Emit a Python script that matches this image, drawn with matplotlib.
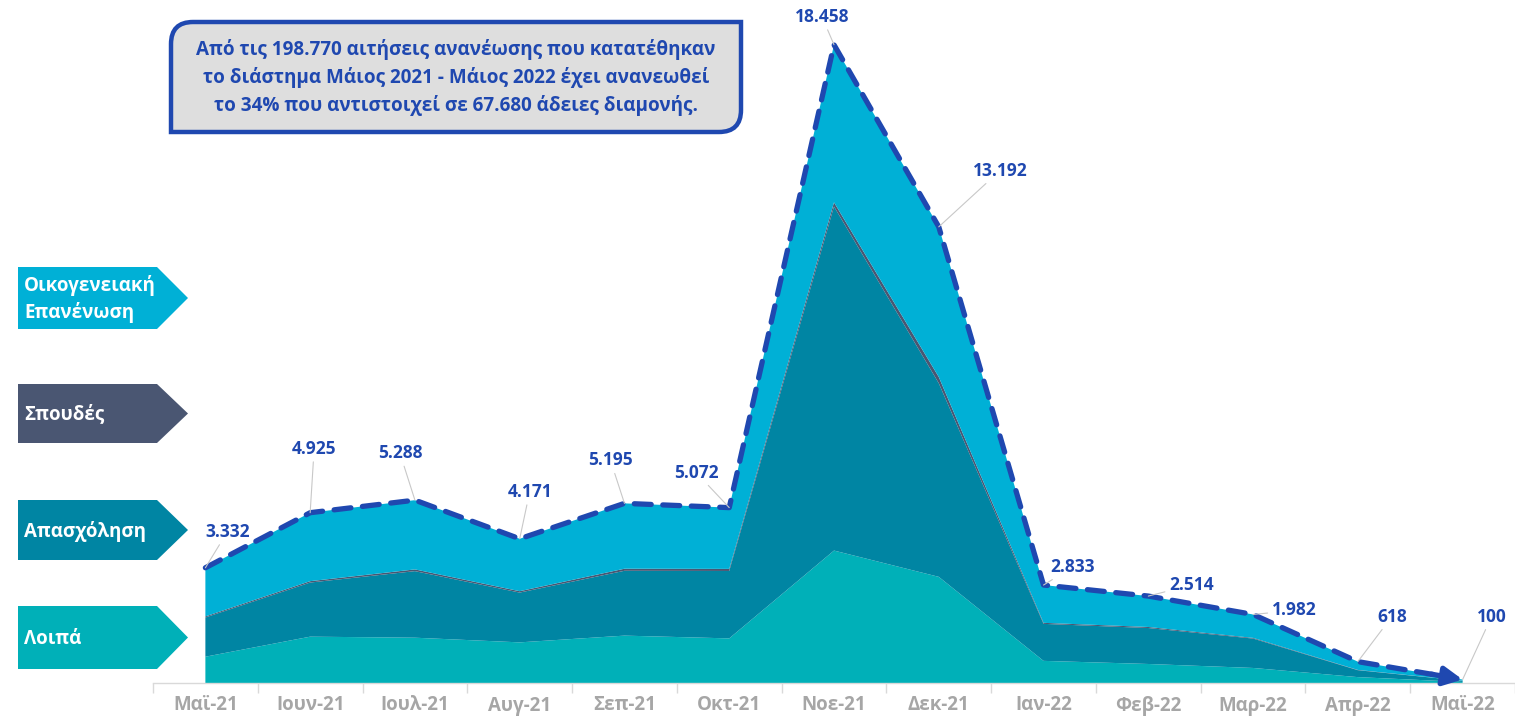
import numpy as np
import matplotlib
matplotlib.use("Agg")
import matplotlib.pyplot as plt
from matplotlib.path import Path
from matplotlib.patches import PathPatch, Polygon
from matplotlib import font_manager as fm

# pick a font family that has a real bold face
chosen = 'DejaVu Sans'
for cand in ['Open Sans', 'Noto Sans', 'Roboto', 'Lato', 'Liberation Sans']:
    try:
        f = fm.findfont(fm.FontProperties(family=cand, weight='bold'), fallback_to_default=False)
        if 'bold' in f.lower():
            chosen = cand
            break
    except Exception:
        pass
plt.rcParams['font.family'] = [chosen, 'DejaVu Sans']

months = ["Μαϊ-21", "Ιουν-21", "Ιουλ-21", "Αυγ-21", "Σεπ-21", "Οκτ-21", "Νοε-21",
          "Δεκ-21", "Ιαν-22", "Φεβ-22", "Μαρ-22", "Απρ-22", "Μαϊ-22"]
loipa = [760, 1340, 1310, 1175, 1370, 1290, 3830, 3070, 640, 550, 435, 170, 30]
apasxolisi = [1135, 1565, 1925, 1440, 1875, 1950, 9950, 5600, 1070, 1040, 850, 200, 35]
spoudes = [30, 40, 50, 40, 60, 60, 120, 180, 30, 30, 20, 8, 2]
oikogeneiaki = [1407, 1980, 2003, 1516, 1890, 1772, 4558, 4342, 1093, 894, 677, 240, 33]
totals = [3332, 4925, 5288, 4171, 5195, 5072, 18458, 13192, 2833, 2514, 1982, 618, 100]

series_names = ["Λοιπά", "Απασχόληση", "Σπουδές", "Οικογενειακή\nΕπανένωση"]
c_loipa = "#00B0B8"
c_apasx = "#0085A3"
c_spoud = "#4A5672"
c_oikog = "#00B0D6"
c_blue = "#1F48B0"

# label offsets in pixels (text centre relative to point)
label_offsets = [(22, 36), (4, 64), (-15, 47), (10, 47), (-14, 43), (-33, 35), (-12, 28),
                 (61, 56), (29, 18), (43, 11), (41, 4), (34, 45), (29, 63)]

fig = plt.figure(figsize=(15.15, 7.17), dpi=100)
ax = fig.add_axes([153 / 1515, 34 / 717, 1362 / 1515, 657 / 717])
x = np.arange(len(months))
ax.stackplot(x, loipa, apasxolisi, spoudes, oikogeneiaki,
             colors=[c_loipa, c_apasx, c_spoud, c_oikog], lw=0)
ax.set_xlim(-0.5, 12.47)
ax.set_ylim(0, 19000)

# dashed total line with arrow at end
tot = np.array(totals, dtype=float)
xe = 11.75
ye = np.interp(xe, x, tot)
xs = list(x[:-1]) + [xe]
ys = list(tot[:-1]) + [ye]
ax.plot(xs, ys, color=c_blue, lw=3.8, dashes=(3.2, 2.2), dash_capstyle='round',
        solid_capstyle='round', zorder=5, clip_on=False)
ax.annotate('', xy=(x[-1], tot[-1]), xytext=(xe - 0.05, np.interp(xe - 0.05, x, tot)),
            arrowprops=dict(arrowstyle='-|>', color=c_blue, lw=3.8, mutation_scale=28,
                            shrinkA=0, shrinkB=0), zorder=6, annotation_clip=False)

for xi, v, off in zip(x, totals, label_offsets):
    txt = f"{v:,}".replace(",", ".")
    ax.annotate(txt, xy=(xi, v), xytext=off, textcoords='offset pixels',
                ha='center', va='center', fontsize=12.5, fontweight='bold', color=c_blue,
                arrowprops=dict(arrowstyle='-', color='#C8C8C8', lw=0.8, shrinkA=1, shrinkB=0),
                annotation_clip=False, zorder=7)

for s in ['top', 'right', 'left']:
    ax.spines[s].set_visible(False)
ax.spines['bottom'].set_color('#D9D9D9')
ax.spines['bottom'].set_linewidth(1.0)
ax.set_yticks([])
ax.set_xticks(np.arange(-0.5, 13, 1))
ax.set_xticklabels([])
ax.tick_params(axis='x', which='major', length=7, color='#D9D9D9', width=1)
ax.set_xticks(x, minor=True)
ax.set_xticklabels(months, minor=True)
ax.tick_params(axis='x', which='minor', length=0, pad=9, labelsize=13.5, labelcolor='#A6A6A6')
for lab in ax.get_xticklabels(minor=True):
    lab.set_fontweight('bold')
ax.patch.set_alpha(0)

# overlay for text box and legend arrows
ov = fig.add_axes([0, 0, 1, 1], zorder=10)
ov.set_xlim(0, 1515)
ov.set_ylim(717, 0)
ov.set_axis_off()
ov.patch.set_alpha(0)

x0, y0, x1, y1, r = 171, 22, 741, 132, 22
verts = [(x0, y1), (x0, y0 + r), (x0, y0), (x0 + r, y0), (x1, y0), (x1, y1 - r),
         (x1, y1), (x1 - r, y1), (x0, y1), (x0, y1)]
codes = [Path.MOVETO, Path.LINETO, Path.CURVE3, Path.CURVE3, Path.LINETO, Path.LINETO,
         Path.CURVE3, Path.CURVE3, Path.LINETO, Path.CLOSEPOLY]
ov.add_patch(PathPatch(Path(verts, codes), facecolor='#DEDEDE', edgecolor=c_blue, lw=3.2))
box_lines = ["Από τις 198.770 αιτήσεις ανανέωσης που κατατέθηκαν",
             "το διάστημα Μάιος 2021 - Μάιος 2022 έχει ανανεωθεί",
             "το 34% που αντιστοιχεί σε 67.680 άδειες διαμονής."]
for i, t in enumerate(box_lines):
    ov.text(456, 50 + 27.5 * i, t, ha='center', va='center', fontsize=13.6,
            fontweight='bold', color=c_blue)

legend_items = [(series_names[3], c_oikog, 267, 329),
                (series_names[2], c_spoud, 384, 443),
                (series_names[1], c_apasx, 500, 560),
                (series_names[0], c_loipa, 606, 669)]
for name, col, top, bot in legend_items:
    mid = (top + bot) / 2
    ov.add_patch(Polygon([(18, top), (157, top), (188, mid), (157, bot), (18, bot)],
                         closed=True, facecolor=col, edgecolor='none'))
    ov.text(24, mid + 1, name, ha='left', va='center', fontsize=13.5, fontweight='bold',
            color='white', linespacing=1.4)

fig.savefig("out.png", dpi=100)
